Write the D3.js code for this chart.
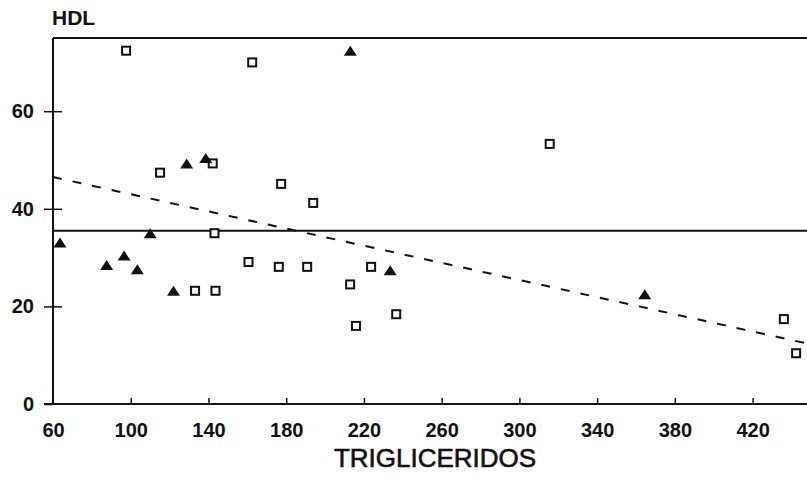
<!DOCTYPE html>
<html>
<head>
<meta charset="utf-8">
<script src="https://cdn.jsdelivr.net/npm/d3@7"></script>
<style>
  body { margin: 0; background: #fff; }
  text { font-family: "Liberation Sans", Arial, sans-serif; fill: #111; }
</style>
</head>
<body>
<svg id="chart" width="807" height="480"></svg>
<script>
// open squares
var squaresX = [97.6, 162.5, 142.2, 115.1, 177.4, 193.9, 315.6, 143.1, 160.6, 176.2, 190.8, 133.1, 143.6, 223.7, 212.9, 215.9, 236.6, 436.1, 442.4];
var squaresY = [72.4, 70.0, 49.3, 47.4, 45.1, 41.2, 53.3, 35.0, 29.1, 28.1, 28.1, 23.2, 23.2, 28.1, 24.5, 16.0, 18.4, 17.4, 10.4];
// filled triangles
var trianglesX = [213, 128.8, 138.6, 63.6, 110, 87.6, 96.6, 103.4, 122, 233.5, 364.5];
var trianglesY = [72.2, 49.1, 50.2, 32.9, 34.8, 28.3, 30.2, 27.4, 23.0, 27.2, 22.3];

var xTicks = [60, 100, 140, 180, 220, 260, 300, 340, 380, 420];
var yTicks = [0, 20, 40, 60];
var meanHDL = 35.5;
// regression line ends
var fitX = [60, 448];
var fitY = [46.5, 12.4];

var svg = d3.select("#chart");
var mLeft = 53, mTop = 38, mRight = 807, mBottom = 404;

var x = d3.scaleLinear().domain([60, 448]).range([mLeft, mRight]);
var y = d3.scaleLinear().domain([0, 75]).range([mBottom, mTop]);

var g = svg.append("g");

// frame: left and top
g.append("line").attr("x1", mLeft).attr("y1", mTop).attr("x2", mLeft).attr("y2", mBottom)
  .attr("stroke", "#111").attr("stroke-width", 2);
g.append("line").attr("x1", mLeft).attr("y1", mTop).attr("x2", mRight).attr("y2", mTop)
  .attr("stroke", "#111").attr("stroke-width", 2);

// x axis, ticks pointing inward
var xAxis = d3.axisBottom(x).tickValues(xTicks).tickSize(-6).tickPadding(19);
var xg = g.append("g").attr("transform", "translate(0," + mBottom + ")").call(xAxis);
xg.select(".domain").attr("d", "M" + (mLeft - 9) + ",0H" + mRight).attr("stroke", "#111").attr("stroke-width", 2);
xg.selectAll(".tick line").attr("stroke", "#111").attr("stroke-width", 1.5);
xg.selectAll(".tick").filter(function(d) { return d === 60; }).select("line").remove();
xg.selectAll(".tick text").attr("font-size", 20).attr("font-weight", "bold")
  .style("font-family", "'Liberation Sans', Arial, sans-serif").attr("fill", "#111");

// y axis, ticks crossing the line
var yAxis = d3.axisLeft(y).tickValues(yTicks).tickSize(9).tickPadding(10);
var yg = g.append("g").attr("transform", "translate(" + mLeft + ",0)").call(yAxis);
yg.select(".domain").remove();
yg.selectAll(".tick line").attr("x2", -9).attr("x1", 9).attr("stroke", "#111").attr("stroke-width", 1.5);
yg.selectAll(".tick").filter(function(d) { return d === 0; }).select("line").attr("x1", 0);
yg.selectAll(".tick text").attr("font-size", 20).attr("font-weight", "bold")
  .style("font-family", "'Liberation Sans', Arial, sans-serif").attr("fill", "#111");

// mean line
g.append("line")
  .attr("x1", mLeft).attr("x2", mRight)
  .attr("y1", y(meanHDL)).attr("y2", y(meanHDL))
  .attr("stroke", "#111").attr("stroke-width", 2);

// regression dashed line
g.append("line")
  .attr("x1", x(fitX[0])).attr("y1", y(fitY[0]))
  .attr("x2", x(fitX[1])).attr("y2", y(fitY[1]))
  .attr("stroke", "#111").attr("stroke-width", 2)
  .attr("stroke-dasharray", "9,11");

// squares
var sq = squaresX.map(function(v, i) { return { x: v, y: squaresY[i] }; });
g.selectAll("rect.sq").data(sq).enter().append("rect")
  .attr("class", "sq")
  .attr("x", function(d) { return x(d.x) - 4; })
  .attr("y", function(d) { return y(d.y) - 4; })
  .attr("width", 8).attr("height", 8)
  .attr("fill", "#fff").attr("stroke", "#111").attr("stroke-width", 2);

// triangles
var tri = trianglesX.map(function(v, i) { return { x: v, y: trianglesY[i] }; });
g.selectAll("path.tri").data(tri).enter().append("path")
  .attr("class", "tri")
  .attr("transform", function(d) { return "translate(" + x(d.x) + "," + y(d.y) + ")"; })
  .attr("d", "M0,-6L6.5,4L-6.5,4Z")
  .attr("fill", "#111");

// titles
svg.append("text").attr("x", 52).attr("y", 25)
  .attr("font-size", 21).attr("font-weight", "bold").text("HDL");
svg.append("text").attr("x", 435).attr("y", 467).attr("text-anchor", "middle")
  .attr("font-size", 26).attr("stroke", "#111").attr("stroke-width", 0.6).text("TRIGLICERIDOS");
</script>
</body>
</html>
